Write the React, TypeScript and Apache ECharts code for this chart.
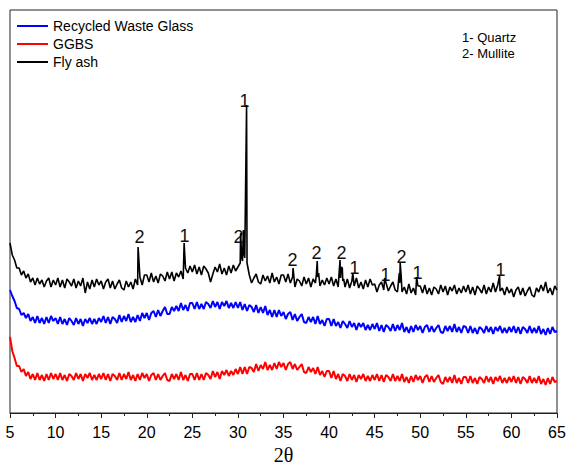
import React, { useEffect, useRef } from "react";
import * as echarts from "echarts";

// 2θ grid: 5° to 65° in 0.25° steps (241 points per pattern)
const START_2THETA = 5;
const STEP_2THETA = 0.25;

// Intensities (arbitrary units)
const flyAshBase = [
  170, 158, 153, 145, 145, 138, 142, 135, 139, 131, 135, 128, 135, 129, 133, 126, 132, 135, 126, 133,
  128, 135, 126, 133, 125, 134, 131, 127, 134, 125, 132, 127, 135, 120, 131, 124, 133, 126, 134, 128,
  132, 124, 131, 134, 125, 132, 124, 129, 133, 125, 123, 132, 126, 131, 124, 134, 128, 136, 128, 138,
  138, 131, 140, 131, 137, 130, 139, 137, 132, 141, 134, 141, 132, 140, 136, 142, 134, 145, 140, 147,
  141, 148, 139, 146, 138, 147, 144, 140, 131, 139, 146, 141, 149, 139, 145, 138, 147, 140, 148, 142,
  146, 150, 152, 155, 150, 138, 130, 135, 139, 131, 129, 138, 132, 137, 130, 140, 131, 136, 129, 138,
  138, 131, 139, 130, 136, 126, 134, 132, 127, 136, 129, 135, 126, 134, 130, 136, 127, 133, 128, 135,
  129, 136, 127, 134, 126, 135, 132, 126, 134, 125, 132, 127, 135, 125, 131, 124, 133, 126, 134, 128,
  129, 121, 128, 131, 123, 130, 122, 127, 131, 123, 121, 130, 121, 126, 119, 129, 120, 125, 118, 127,
  127, 120, 128, 119, 125, 118, 126, 124, 119, 128, 121, 127, 118, 126, 122, 128, 119, 125, 120, 127,
  121, 128, 119, 126, 118, 127, 124, 120, 128, 119, 126, 121, 130, 121, 128, 122, 125, 118, 126, 120,
  124, 116, 123, 126, 118, 125, 117, 122, 126, 118, 116, 125, 121, 128, 122, 131, 120, 125, 118, 127,
  123,
];

// Sharp diffraction peaks of the fly ash pattern: [2θ, intensity]
const flyAshPeaks: [number, number][] = [
  [19.05, 166],
  [24.1, 170],
  [30.3, 180],
  [30.4, 156],
  [30.6, 183],
  [30.7, 158],
  [30.95, 308],
  [36.05, 145],
  [38.6, 138],
  [38.7, 152],
  [38.85, 140],
  [41.1, 140],
  [41.2, 153],
  [41.35, 146],
  [41.45, 145],
  [41.6, 134],
  [42.6, 140],
  [46.1, 135],
  [47.7, 140],
  [47.8, 150],
  [47.9, 138],
  [49.6, 136],
  [58.7, 137],
];

const glass = [
  123, 117, 112, 105, 104, 98, 100, 95, 99, 92, 96, 90, 97, 90, 95, 89, 96, 90, 97, 92,
  95, 89, 96, 89, 94, 88, 95, 92, 88, 95, 89, 94, 87, 94, 90, 95, 89, 94, 89, 95,
  91, 97, 90, 96, 89, 96, 94, 90, 98, 91, 97, 92, 99, 91, 96, 91, 98, 92, 100, 95,
  100, 93, 100, 102, 96, 103, 97, 102, 106, 99, 99, 106, 102, 107, 102, 110, 103, 108, 102, 110,
  110, 104, 111, 104, 109, 104, 111, 109, 105, 112, 106, 111, 104, 111, 107, 112, 105, 110, 105, 111,
  105, 111, 103, 109, 102, 108, 106, 101, 108, 100, 106, 100, 107, 98, 103, 96, 103, 96, 103, 97,
  101, 94, 99, 101, 93, 99, 92, 96, 99, 91, 90, 96, 91, 96, 89, 97, 89, 93, 87, 94,
  94, 87, 94, 87, 91, 85, 92, 89, 85, 92, 86, 90, 83, 90, 86, 90, 83, 88, 83, 89,
  84, 90, 82, 88, 81, 88, 86, 82, 89, 82, 88, 83, 90, 81, 86, 80, 87, 81, 88, 83,
  87, 80, 86, 88, 81, 87, 81, 85, 88, 81, 80, 87, 82, 87, 81, 89, 81, 86, 80, 87,
  86, 80, 87, 80, 85, 79, 86, 84, 80, 87, 81, 86, 79, 86, 82, 87, 80, 85, 80, 86,
  81, 87, 80, 86, 79, 86, 84, 80, 87, 80, 85, 80, 87, 79, 84, 78, 85, 79, 86, 81,
  82,
];

const ggbs = [
  76, 62, 55, 47, 47, 41, 44, 37, 41, 34, 39, 33, 40, 33, 38, 32, 39, 33, 40, 34,
  39, 33, 40, 33, 38, 32, 39, 37, 33, 40, 34, 39, 32, 39, 35, 40, 33, 38, 33, 39,
  34, 40, 33, 39, 32, 39, 37, 33, 40, 33, 39, 34, 41, 33, 38, 32, 39, 33, 40, 35,
  39, 32, 38, 40, 33, 39, 33, 37, 40, 33, 32, 39, 34, 39, 33, 41, 33, 38, 32, 39,
  39, 33, 40, 33, 39, 33, 40, 38, 34, 42, 36, 41, 34, 42, 38, 43, 37, 42, 38, 44,
  39, 46, 39, 46, 39, 46, 45, 41, 49, 42, 48, 44, 51, 43, 48, 43, 50, 44, 51, 46,
  50, 43, 49, 51, 44, 49, 43, 46, 49, 41, 40, 46, 41, 45, 39, 46, 38, 42, 36, 42,
  42, 35, 42, 34, 39, 32, 39, 37, 32, 39, 33, 38, 31, 38, 34, 39, 32, 37, 32, 38,
  33, 39, 32, 38, 31, 38, 36, 32, 39, 32, 37, 32, 39, 31, 36, 30, 37, 31, 38, 33,
  37, 30, 36, 38, 31, 37, 31, 35, 38, 31, 29, 36, 31, 36, 30, 38, 30, 35, 29, 36,
  36, 30, 37, 30, 35, 29, 36, 34, 30, 37, 31, 36, 29, 36, 32, 37, 30, 35, 30, 36,
  31, 37, 30, 36, 29, 36, 34, 30, 37, 30, 35, 30, 37, 29, 34, 28, 35, 29, 36, 31,
  32,
];

// Phase labels above the peaks
const peakLabel2Theta = [19.26, 24.2, 30.12, 30.78, 36.04, 38.67, 41.42, 42.84, 46.24, 48.0, 49.75, 58.86];
const peakLabelY = [176, 177, 176, 312, 153, 160, 160, 145, 138, 156, 140, 143];
const peakLabelText = ["2", "1", "2", "1", "2", "2", "2", "1", "1", "2", "1", "1"];

const xTicks = { min: 5, max: 65, interval: 5 };
const seriesNames = ["Recycled Waste Glass", "GGBS", "Fly ash"];
const phaseKey = ["1- Quartz", "2- Mullite"];

function toPairs(vals: number[]): [number, number][] {
  return vals.map((v, i) => [START_2THETA + i * STEP_2THETA, v]);
}

export default function App() {
  const ref = useRef<HTMLDivElement>(null);
  useEffect(() => {
    if (!ref.current) return;
    const chart = echarts.init(ref.current, null, { renderer: "svg" });
    const flyAsh = toPairs(flyAshBase)
      .concat(flyAshPeaks)
      .sort((a, b) => a[0] - b[0]);
    const sans = "'Liberation Sans', Arial, sans-serif";
    chart.setOption({
      animation: false,
      backgroundColor: "#ffffff",
      grid: {
        left: 10,
        right: 10,
        top: 10,
        bottom: 54,
        outerBoundsMode: "none",
        containLabel: false,
        show: true,
        borderColor: "#222",
        borderWidth: 1,
      },
      legend: {
        data: seriesNames,
        orient: "vertical",
        left: 17,
        top: 19,
        padding: 0,
        itemGap: 4,
        itemWidth: 31,
        itemHeight: 2,
        icon: "rect",
        textStyle: { fontSize: 14, fontFamily: sans, color: "#000", lineHeight: 14 },
      },
      xAxis: {
        type: "value",
        min: xTicks.min,
        max: xTicks.max,
        interval: xTicks.interval,
        name: "2θ",
        nameLocation: "middle",
        nameGap: 32,
        nameTextStyle: {
          fontFamily: "'Liberation Serif', 'Times New Roman', serif",
          fontSize: 20,
          lineHeight: 18,
          color: "#000",
        },
        axisLine: { show: true, lineStyle: { color: "#222", width: 1 } },
        axisTick: { show: true, inside: false, length: 5, lineStyle: { color: "#222" } },
        minorTick: { show: true, splitNumber: 2, length: 3, lineStyle: { color: "#222" } },
        axisLabel: { fontSize: 16, fontFamily: sans, color: "#000", margin: 11 },
        splitLine: { show: false },
      },
      yAxis: {
        type: "value",
        min: 0,
        max: 403,
        show: false,
      },
      graphic: [
        {
          type: "text",
          left: 462,
          top: 31,
          style: { text: phaseKey[0], font: `13px ${sans}`, fill: "#000" },
        },
        {
          type: "text",
          left: 462,
          top: 47,
          style: { text: phaseKey[1], font: `13px ${sans}`, fill: "#000" },
        },
      ],
      series: [
        {
          name: seriesNames[0],
          type: "line",
          data: toPairs(glass),
          showSymbol: false,
          lineStyle: { color: "#0000ff", width: 2 },
          itemStyle: { color: "#0000ff" },
        },
        {
          name: seriesNames[1],
          type: "line",
          data: toPairs(ggbs),
          showSymbol: false,
          lineStyle: { color: "#ff0000", width: 2 },
          itemStyle: { color: "#ff0000" },
        },
        {
          name: seriesNames[2],
          type: "line",
          data: flyAsh,
          showSymbol: false,
          lineStyle: { color: "#000000", width: 1.6 },
          itemStyle: { color: "#000000" },
        },
        {
          name: "labels",
          type: "scatter",
          symbolSize: 1,
          itemStyle: { color: "#ffffff", opacity: 0 },
          silent: true,
          data: peakLabel2Theta.map((x, i) => ({
            value: [x, peakLabelY[i]],
            label: {
              show: true,
              formatter: peakLabelText[i],
              position: [0, 0],
              align: "center",
              verticalAlign: "middle",
              fontSize: 18,
              fontFamily: sans,
              color: "#111111",
              opacity: 1,
            },
          })),
        },
      ],
    });
    return () => chart.dispose();
  }, []);
  return (
    <div
      ref={ref}
      style={{ position: "fixed", left: 0, top: 0, width: 567, height: 467, background: "#fff" }}
    />
  );
}
